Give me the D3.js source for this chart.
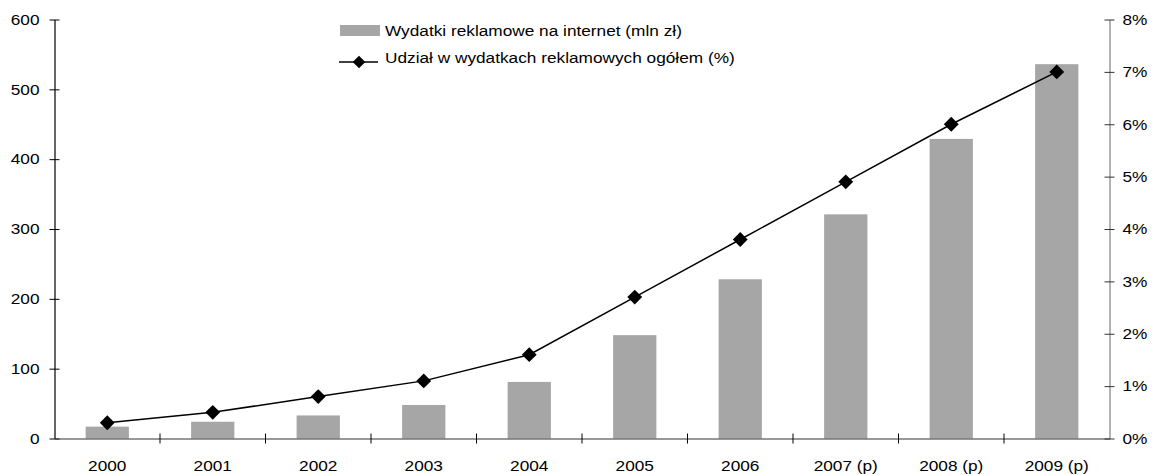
<!DOCTYPE html>
<html>
<head>
<meta charset="utf-8">
<script src="https://cdn.jsdelivr.net/npm/d3@7"></script>
<style>
  html, body { margin: 0; padding: 0; background: #fff; }
  svg { display: block; font-family: "Liberation Sans", Arial, sans-serif; }
  text { fill: #000; }
  .sx { transform-box: fill-box; transform: scaleX(1.15); }
  .sx-c { transform-origin: center; }
  .sx-r { transform-origin: right; }
  .sx-l { transform-origin: left; }
</style>
</head>
<body>
<svg id="chart" width="1155" height="475"></svg>
<script>
// Internet advertising spend in Poland (mln zł) and its share of total ad spend (%)
const years = ["2000", "2001", "2002", "2003", "2004", "2005", "2006", "2007 (p)", "2008 (p)", "2009 (p)"];
const spend = [17, 24, 33, 48, 81, 148, 228, 321, 429, 536];
const share = [0.3, 0.5, 0.8, 1.1, 1.6, 2.7, 3.8, 4.9, 6.0, 7.0];
const leftTicks = [0, 100, 200, 300, 400, 500, 600];
const rightTicks = [0, 1, 2, 3, 4, 5, 6, 7, 8];
const legendLabels = ["Wydatki reklamowe na internet (mln zł)", "Udział w wydatkach reklamowych ogółem (%)"];

const svg = d3.select("#chart");
const plotL = 54.5, plotR = 1109.5, plotT = 19.5, plotB = 438.5;

const x = d3.scaleBand().domain(years).range([plotL, plotR]).padding(0);
const xBar = d3.scaleBand().domain(years).range([plotL, plotR])
  .paddingInner(0.59).paddingOuter(0.295);
const yL = d3.scaleLinear().domain([0, 600]).range([plotB, plotT]);
const yR = d3.scaleLinear().domain([0, 8]).range([plotB, plotT]);

// bars
svg.append("g").selectAll("rect").data(years).join("rect")
  .attr("x", d => xBar(d))
  .attr("width", xBar.bandwidth())
  .attr("y", (d, i) => yL(spend[i]))
  .attr("height", (d, i) => plotB - yL(spend[i]))
  .attr("fill", "#a6a6a6");

// left axis
const gL = svg.append("g").attr("transform", `translate(${plotL},0)`)
  .call(d3.axisLeft(yL).tickValues(leftTicks).tickSize(0).tickPadding(15));
gL.select(".domain").attr("stroke", "#000").attr("stroke-width", 1.2);
gL.selectAll(".tick line").attr("x1", -5).attr("x2", 5).attr("stroke", "#000");
gL.selectAll("text").attr("font-size", 15).attr("class", "sx sx-r");

// right axis
const gR = svg.append("g").attr("transform", `translate(${plotR},0)`)
  .call(d3.axisRight(yR).tickValues(rightTicks).tickFormat(d => d + "%").tickSize(0).tickPadding(13));
gR.select(".domain").attr("stroke", "#808080").attr("stroke-width", 1.2);
gR.selectAll(".tick line").attr("x1", -5).attr("x2", 5).attr("stroke", "#333");
gR.selectAll("text").attr("font-size", 15).attr("class", "sx sx-l");

// bottom axis with boundary ticks between categories
const gX = svg.append("g").attr("transform", `translate(0,${plotB})`)
  .call(d3.axisBottom(x).tickSize(0).tickPadding(22));
gX.select(".domain").attr("stroke", "#333").attr("stroke-width", 1.2);
gX.selectAll("text").attr("font-size", 15).attr("class", "sx sx-c");
gX.selectAll(".tick line").remove();
gX.append("g").selectAll("line").data(years.slice(1)).join("line")
  .attr("x1", d => x(d)).attr("x2", d => x(d))
  .attr("y1", -5).attr("y2", 5)
  .attr("stroke", "#000");

// share line
const cx = d => x(d) + x.bandwidth() / 2;
const line = d3.line().x(d => cx(d)).y((d, i) => yR(share[i]));
svg.append("path").datum(years)
  .attr("d", line)
  .attr("fill", "none").attr("stroke", "#000").attr("stroke-width", 1.5);

const diamond = d3.symbol().type(d3.symbolSquare).size(110);
svg.append("g").selectAll("path").data(years).join("path")
  .attr("d", diamond)
  .attr("transform", (d, i) => `translate(${cx(d)},${yR(share[i])}) rotate(45)`)
  .attr("fill", "#000");

// legend
const lg = svg.append("g");
lg.append("rect").attr("x", 340).attr("y", 25).attr("width", 40).attr("height", 11).attr("fill", "#a6a6a6");
lg.append("line").attr("x1", 339).attr("x2", 378).attr("y1", 62).attr("y2", 62)
  .attr("stroke", "#000").attr("stroke-width", 1.5);
lg.append("path").attr("d", d3.symbol().type(d3.symbolSquare).size(80))
  .attr("transform", "translate(359,62) rotate(45)").attr("fill", "#000");
lg.selectAll("text").data(legendLabels).join("text")
  .attr("x", 385).attr("y", (d, i) => 36 + i * 27)
  .attr("font-size", 15)
  .attr("class", "sx sx-l")
  .text(d => d);
</script>
</body>
</html>
